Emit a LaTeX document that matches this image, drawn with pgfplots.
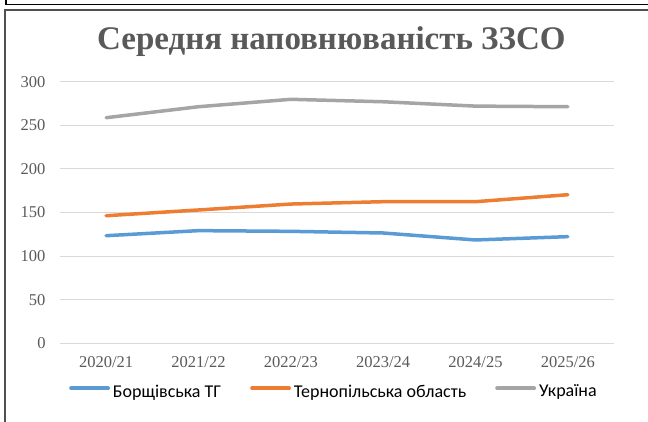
\documentclass[border=0pt]{standalone}
\usepackage{pgfplots}
\pgfplotsset{compat=1.18}
\usepackage{fontspec}
\setmainfont{Liberation Serif}
\newfontfamily\legendfont{Carlito}
\definecolor{txtgray}{RGB}{89,89,89}
\definecolor{gridgray}{RGB}{217,217,217}
\definecolor{sblue}{RGB}{91,155,213}
\definecolor{sorange}{RGB}{237,125,49}
\definecolor{sgray}{RGB}{165,165,165}
\definecolor{framegray}{RGB}{80,80,80}
\begin{document}
\begin{tikzpicture}
\useasboundingbox (0pt,0pt) rectangle (648pt,421pt);
\draw[black, line width=1.5pt] (6pt,422pt) -- (6pt,416.5pt) -- (649pt,416.5pt);
\draw[framegray, line width=2pt] (4.7pt,-1pt) -- (4.7pt,411.2pt) -- (649pt,411.2pt);
\begin{axis}[
  at={(60pt,77.7pt)}, anchor=south west,
  scale only axis, width=554pt, height=261.6pt,
  xmin=-0.5, xmax=5.5, ymin=0, ymax=300,
  xtick={0,1,2,3,4,5},
  xticklabels={2020/21,2021/22,2022/23,2023/24,2024/25,2025/26},
  ytick={0,50,100,150,200,250,300},
  /pgf/number format/assume math mode=true,
  axis line style={draw=none},
  major tick length=0pt,
  ymajorgrids, grid style={gridgray, line width=1pt},
  tick label style={font=\fontsize{16.5}{18}\selectfont, text=txtgray},
  xticklabel style={anchor=north, inner sep=0pt, yshift=-13pt},
  yticklabel style={anchor=east, inner sep=0pt, xshift=-14.3pt},
  title={Середня наповнюваність ЗЗСО},
  title style={at={(rel axis cs:0.4899,1.0983)}, anchor=base, inner sep=0pt,
    font=\bfseries\fontsize{33}{37}\selectfont, text=txtgray},
  legend style={at={(rel axis cs:0.0162,-0.185)}, anchor=west, draw=none, fill=none,
    inner sep=0pt, font=\legendfont\fontsize{18}{20}\selectfont,
    nodes={inner sep=0pt},
    /tikz/every odd column/.append style={column sep=3pt},
    /tikz/every even column/.append style={column sep=29pt}},
  legend columns=-1,
  legend image code/.code={\draw[#1, line width=3.8pt] (0pt,0.33em) -- (37pt,0.33em);},
  every axis plot/.append style={line width=3.5pt, line join=round, line cap=round},
]
\addplot[sblue] coordinates {(0,123.4) (1,129.2) (2,128.4) (3,126.5) (4,118.5) (5,122.3)};
\addlegendentry{Борщівська ТГ}
\addplot[sorange] coordinates {(0,146.3) (1,152.9) (2,159.7) (3,162.4) (4,162.4) (5,170.4)};
\addlegendentry{Тернопільська область}
\addplot[sgray] coordinates {(0,258.7) (1,271.3) (2,279.8) (3,277) (4,272) (5,271.3)};
\addlegendentry{Україна}
\end{axis}
\end{tikzpicture}
\end{document}
